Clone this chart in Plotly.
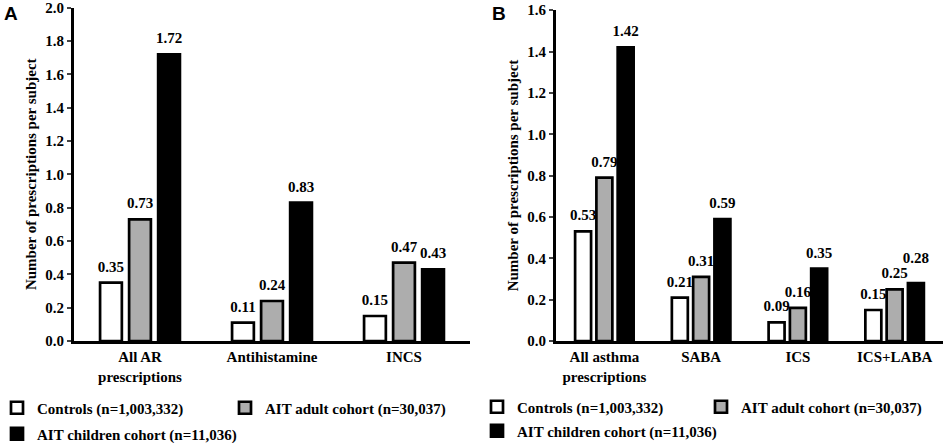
import plotly.graph_objects as go

# panel A: allergic rhinitis
cats_a = ["All AR<br>prescriptions", "Antihistamine", "INCS"]
controls_a = [0.35, 0.11, 0.15]
adult_a = [0.73, 0.24, 0.47]
children_a = [1.72, 0.83, 0.43]

# panel B: asthma
cats_b = ["All asthma<br>prescriptions", "SABA", "ICS", "ICS+LABA"]
controls_b = [0.53, 0.21, 0.09, 0.15]
adult_b = [0.79, 0.31, 0.16, 0.25]
children_b = [1.42, 0.59, 0.35, 0.28]

names = ["Controls (n=1,003,332)", "AIT adult cohort (n=30,037)", "AIT children cohort (n=11,036)"]
fills = ["white", "#adadad", "black"]

serif = dict(family="Liberation Serif", size=15, color="black", weight="bold")

fig = go.Figure()

panels = [
    (cats_a, [controls_a, adult_a, children_a], "x", "y", ["legend", "legend", "legend3"]),
    (cats_b, [controls_b, adult_b, children_b], "x2", "y2", ["legend2", "legend2", "legend4"]),
]
for p, (cats, series, xa, ya, legs) in enumerate(panels):
    for k in range(3):
        fig.add_trace(go.Bar(
            x=cats, y=series[k], name=names[k],
            marker=dict(color=fills[k], line=dict(color="black", width=2.7)),
            xaxis=xa, yaxis=ya, legend=legs[k], hoverinfo="x+y",
        ))
    # value labels, grouped like the bars, sitting a little above each bar
    for k in range(3):
        sizes = [10] * len(cats)
        if p == 1 and k == 2:
            sizes[-1] = 24  # lift the 0.28 label clear of 0.25
        fig.add_trace(go.Scatter(
            x=cats, y=series[k], mode="markers+text",
            text=[f"{v:.2f}" for v in series[k]], textposition="top center",
            textfont=serif, cliponaxis=False,
            marker=dict(size=sizes, color="rgba(0,0,0,0)", opacity=0, line=dict(width=0)),
            showlegend=False, hoverinfo="skip", xaxis=xa, yaxis=ya,
        ))

axis_common = dict(showline=True, linecolor="black", linewidth=3, showgrid=False,
                   zeroline=False, tickfont=serif)
yaxis_common = dict(dtick=0.2, tickformat=".1f", ticks="outside", ticklen=4, tickwidth=2,
                    ticklabeloverflow="allow",
                    title=dict(text="Number of prescriptions per subject", font=serif, standoff=6),
                    **axis_common)

leg_common = dict(orientation="h", xanchor="left", yanchor="middle",
                  font=serif, bgcolor="rgba(0,0,0,0)")

fig.update_layout(
    width=945, height=443,
    margin=dict(l=0, r=0, t=0, b=0, autoexpand=False),
    paper_bgcolor="white", plot_bgcolor="white",
    barmode="group", bargap=0.34, bargroupgap=0.25,
    scattermode="group", scattergap=0.34,
    font=serif,
    xaxis=dict(domain=[74 / 945, 470 / 945], anchor="y", ticks="", **axis_common),
    yaxis=dict(domain=[1 - 341 / 443, 1 - 7.5 / 443], anchor="x", range=[0, 2.001], **yaxis_common),
    xaxis2=dict(domain=[556 / 945, 943 / 945], anchor="y2", ticks="", **axis_common),
    yaxis2=dict(domain=[1 - 341 / 443, 1 - 10 / 443], anchor="x2", range=[0, 1.601], **yaxis_common),
    legend=dict(x=-3 / 945, y=1 - 408 / 443, entrywidth=183, entrywidthmode="pixels", **leg_common),
    legend3=dict(x=-3 / 945, y=1 - 434 / 443, **leg_common),
    legend2=dict(x=477 / 945, y=1 - 407 / 443, entrywidth=179, entrywidthmode="pixels", **leg_common),
    legend4=dict(x=477 / 945, y=1 - 431 / 443, **leg_common),
    annotations=[
        dict(text="A", x=2 / 945, y=1 - 13 / 443, xref="paper", yref="paper",
             xanchor="left", yanchor="middle", showarrow=False,
             font=dict(family="Liberation Sans", size=19, color="black", weight="bold")),
        dict(text="B", x=490 / 945, y=1 - 14 / 443, xref="paper", yref="paper",
             xanchor="left", yanchor="middle", showarrow=False,
             font=dict(family="Liberation Sans", size=19, color="black", weight="bold")),
    ],
)

# the page body has a default 8px margin; drop it so the figure fills the window
fig.write_html("out.html", config={"displayModeBar": False},
               post_script="document.body.style.margin='0';")
